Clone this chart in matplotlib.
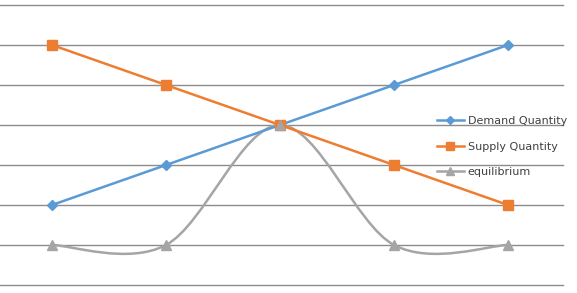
import numpy as np
import matplotlib
matplotlib.use("Agg")
import matplotlib.pyplot as plt
from matplotlib.path import Path
from matplotlib.patches import PathPatch
from matplotlib.lines import Line2D

categories = [1, 2, 3, 4, 5]
demand = [2, 3, 4, 5, 6]
supply = [6, 5, 4, 3, 2]
equilibrium = [1, 1, 4, 1, 1]

W, H = 577, 293
fig = plt.figure(figsize=(W / 100, H / 100), dpi=100)
# axes: left pixel 0, right 563, top 5, bottom 285
ax = fig.add_axes([0 / W, (H - 285) / H, 563 / W, 280 / H])
x = np.arange(len(categories))
ax.set_xlim(-52 / 114, (563 - 52) / 114)
ax.set_ylim(0, 7)
for s in ax.spines.values():
    s.set_visible(False)
ax.set_xticks([])
ax.set_yticks([])
for yv in range(0, 8):
    ax.axhline(yv, color="#8c8c8c", lw=1.0, zorder=0, clip_on=False)

blue, orange, gray = "#5B9BD5", "#ED7D31", "#A5A5A5"
lw = 1.8

ax.plot(x, demand, color=blue, lw=lw, marker="D", ms=5, zorder=3)
ax.plot(x, supply, color=orange, lw=lw, marker="s", ms=6.5, zorder=3)

# Excel-style smoothed line (Bezier with 1/6 tangents) through equilibrium data
pts = np.column_stack([x, equilibrium]).astype(float)
n = len(pts)
verts = [tuple(pts[0])]
codes = [Path.MOVETO]
for i in range(n - 1):
    p0 = pts[max(i - 1, 0)]
    p1 = pts[i]
    p2 = pts[i + 1]
    p3 = pts[min(i + 2, n - 1)]
    c1 = p1 + (p2 - p0) / 6.0
    c2 = p2 - (p3 - p1) / 6.0
    verts += [tuple(c1), tuple(c2), tuple(p2)]
    codes += [Path.CURVE4] * 3
patch = PathPatch(Path(verts, codes), facecolor="none", edgecolor=gray, lw=lw, zorder=2)
ax.add_patch(patch)
ax.plot(x, equilibrium, linestyle="none", color=gray, marker="^", ms=6.5, zorder=3)

handles = [
    Line2D([], [], color=blue, lw=lw, marker="D", ms=4),
    Line2D([], [], color=orange, lw=lw, marker="s", ms=5.5),
    Line2D([], [], color=gray, lw=lw, marker="^", ms=5.5),
]
labels = ["Demand Quantity", "Supply Quantity", "equilibrium"]
leg = fig.legend(handles, labels, loc="upper left",
                 bbox_to_anchor=(437 / W, (H - 116) / H),
                 frameon=False, fontsize=8, handlelength=2.4,
                 handletextpad=0.35, labelspacing=1.4, borderpad=0,
                 borderaxespad=0)
for t in leg.get_texts():
    t.set_color("#404040")

fig.savefig("out.png", dpi=100)
